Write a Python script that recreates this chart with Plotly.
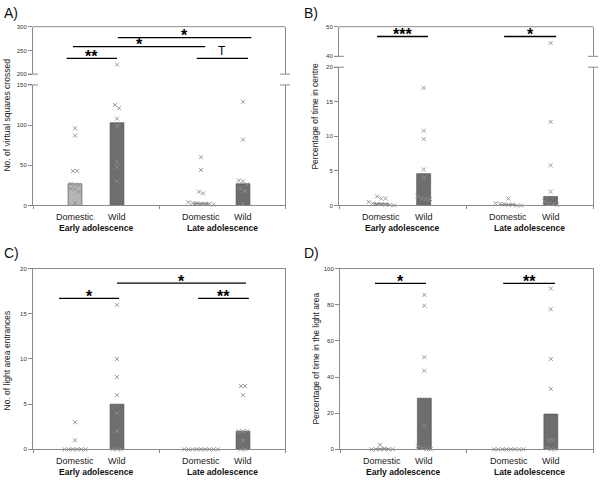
import plotly.graph_objects as go

# ---------------- data ----------------
group_labels = ["Domestic", "Wild", "Domestic", "Wild"]
group_pos = [1, 2, 4, 5]
stage_labels = ["Early adolescence", "Late adolescence"]
stage_pos = [1.5, 4.5]

# A) No. of virtual squares crossed
a_medians = [27, 103, 3, 27]
a_dom_early = [96, 87, 43, 43, 27, 26, 25, 21, 20, 17, 3]
a_wild_early = [220, 125, 121, 108, 99, 54, 48, 30]
a_dom_late = [60, 44, 17, 15, 4, 3, 3, 2, 2, 2, 1]
a_wild_late = [129, 82, 31, 30, 26, 21, 18, 2]
a_sig_labels = ["**", "*", "*", "T"]
a_sig_from = [0.8, 0.95, 2.02, 3.9]
a_sig_to = [2.0, 4.1, 5.2, 5.12]
a_sig_level = [233, 258, 277, 233]

# B) Percentage of time in centre
b_medians = [0.3, 4.6, 0.15, 1.3]
b_dom_early = [1.3, 1.0, 1.0, 0.5, 0.3, 0.2, 0.2, 0.1, 0.1, 0.0]
b_wild_early = [17.0, 10.8, 9.6, 5.2, 4.0, 1.3, 1.0, 0.9, 0.9]
b_dom_late = [1.0, 0.3, 0.2, 0.2, 0.1, 0.1, 0.0, 0.0]
b_wild_late = [44.5, 12.1, 5.8, 2.0, 0.6, 0.3, 0.2, 0.1]
b_sig_labels = ["***", "*"]
b_sig_from = [0.9, 3.9]
b_sig_to = [2.1, 5.13]
b_sig_level = [46.7, 46.7]

# C) No. of light area entrances
c_medians = [0, 5, 0, 2]
c_dom_early = [3, 1, 0, 0, 0, 0, 0, 0]
c_wild_early = [16, 10, 8, 6, 4, 2, 0, 0, 0]
c_dom_late = [0, 0, 0, 0, 0, 0, 0, 0, 0]
c_wild_late = [7, 7, 6, 2, 2, 2, 1, 0, 0]
c_sig_labels = ["*", "*", "**"]
c_sig_from = [0.62, 2.0, 3.93]
c_sig_to = [2.05, 5.07, 5.14]
c_sig_level = [16.7, 18.4, 16.7]

# D) Percentage of time in the light area
d_medians = [0.3, 28.3, 0, 19.5]
d_dom_early = [2.5, 0.5, 0, 0, 0, 0, 0, 0]
d_wild_early = [85.5, 79.5, 51, 43.5, 13, 2, 0.5, 0, 0]
d_dom_late = [0, 0, 0, 0, 0, 0, 0, 0]
d_wild_late = [89, 77.5, 50, 33.5, 5, 5, 0.5, 0, 0]
d_sig_labels = ["*", "**"]
d_sig_from = [0.83, 3.87]
d_sig_to = [2.04, 5.1]
d_sig_level = [91.8, 91.8]

# ---------------- styling ----------------
W, H = 600, 480
FONT = "Liberation Sans, Arial, sans-serif"
AXIS_GREY = "#8a8a8a"
BAR_COLORS = ["#b5b5b5", "#6e6e6e", "#b5b5b5", "#6e6e6e"]
PT_COLOR = "#8e8e8e"


def px_x(p):
    return p / W


def px_y(p):
    return 1 - p / H


def swarm(vals, center, tol, step=0.1):
    order = sorted(vals, reverse=True)
    xs, ys = [], []
    i = 0
    while i < len(order):
        j = i
        while j + 1 < len(order) and order[i] - order[j + 1] <= tol:
            j += 1
        grp = order[i:j + 1]
        n = len(grp)
        for k, v in enumerate(grp):
            xs.append(center + (k - (n - 1) / 2) * step)
            ys.append(v)
        i = j + 1
    return xs, ys


fig = go.Figure()
layout = dict(
    width=W, height=H, margin=dict(l=0, r=0, t=0, b=0),
    paper_bgcolor="white", plot_bgcolor="white", showlegend=False,
    font=dict(family=FONT, color="#222"),
)
shapes = []
annotations = []


def add_panel(letter, xa, ya_low, ya_up, xdom, ydom_low, ydom_up,
              low_range, low_ticks, up_range, up_ticks, ytitle, title_px,
              series, medians, sig_labels, sig_from, sig_to, sig_level, letter_px):
    xn = "xaxis" + xa[1:]
    yln = "yaxis" + ya_low[1:]
    lowpx = (ydom_low[1] - ydom_low[0]) * H
    tol_low = 4.5 / (lowpx / (low_range[1] - low_range[0]))
    axis_bottom_px = (1 - ydom_low[0]) * H
    marker = dict(symbol="x-thin", size=4, line=dict(color=PT_COLOR, width=0.9))
    # bars
    fig.add_trace(go.Bar(
        x=group_pos, y=medians, xaxis=xa, yaxis=ya_low, width=0.33,
        marker=dict(color=BAR_COLORS, line=dict(color="#4a4a4a", width=0.6)),
        hoverinfo="skip"))
    # points
    for gp, vals in zip(group_pos, series):
        low_vals = [v for v in vals if v <= low_range[1]]
        xs, ys = swarm(low_vals, gp, tol_low)
        fig.add_trace(go.Scatter(
            x=xs, y=ys, xaxis=xa, yaxis=ya_low, mode="markers", cliponaxis=False,
            marker=marker))
        if ya_up:
            up_vals = [v for v in vals if v >= up_range[0]]
            if up_vals:
                xs, ys = swarm(up_vals, gp, 1)
                fig.add_trace(go.Scatter(
                    x=xs, y=ys, xaxis=xa, yaxis=ya_up, mode="markers", cliponaxis=False,
                    marker=marker))

    layout[xn] = dict(
        domain=list(xdom), anchor=ya_low, range=[0, 6], showgrid=False, zeroline=False,
        showline=True, linecolor=AXIS_GREY, linewidth=1, mirror=(ya_up is None),
        tickvals=[0, 3, 6], ticks="outside", ticklen=3, tickcolor=AXIS_GREY,
        showticklabels=False, fixedrange=True)
    ycommon = dict(showgrid=False, zeroline=False, showline=True, linecolor=AXIS_GREY,
                   linewidth=1, mirror=True, ticks="outside", ticklen=4,
                   tickcolor=AXIS_GREY, tickfont=dict(size=6, color="#333", family=FONT),
                   anchor=xa)
    layout[yln] = dict(domain=list(ydom_low), range=list(low_range), tickvals=low_ticks, **ycommon)
    if ya_up:
        yun = "yaxis" + ya_up[1:]
        layout[yun] = dict(domain=list(ydom_up), range=list(up_range), tickvals=up_ticks, **ycommon)
        shapes.append(dict(type="line", xref=xa + " domain", yref=ya_up + " domain",
                           x0=0, x1=1, y0=1, y1=1, line=dict(color=AXIS_GREY, width=1)))
        half = 5 / ((xdom[1] - xdom[0]) * W)
        for xc in (0, 1):
            for yr, yv in ((ya_low + " domain", 1), (ya_up + " domain", 0)):
                shapes.append(dict(type="line", xref=xa + " domain", yref=yr,
                                   x0=xc - half, x1=xc + half, y0=yv, y1=yv,
                                   line=dict(color=AXIS_GREY, width=1)))
    sig_axis = ya_up if ya_up else ya_low
    for lab, x0, x1, yv in zip(sig_labels, sig_from, sig_to, sig_level):
        shapes.append(dict(type="line", xref=xa, yref=sig_axis, x0=x0, x1=x1, y0=yv, y1=yv,
                           line=dict(color="black", width=1.3)))
        if lab == "T":
            annotations.append(dict(text="T", xref=xa, yref=sig_axis, x=(x0 + x1) / 2, y=yv,
                                    yanchor="bottom", showarrow=False, yshift=-2,
                                    font=dict(size=12, color="black", family=FONT)))
        else:
            annotations.append(dict(text="<b>" + lab + "</b>", xref=xa, yref=sig_axis,
                                    x=(x0 + x1) / 2, y=yv, yanchor="middle", showarrow=False,
                                    yshift=2, font=dict(size=16, color="black", family=FONT)))
    for gl, gp in zip(group_labels, group_pos):
        annotations.append(dict(text=gl, xref=xa, yref="paper", x=gp,
                                y=px_y(axis_bottom_px + 11.5), yanchor="middle",
                                showarrow=False, font=dict(size=9, color="#222", family=FONT)))
    for st, sp in zip(stage_labels, stage_pos):
        annotations.append(dict(text="<b>" + st + "</b>", xref=xa, yref="paper", x=sp,
                                y=px_y(axis_bottom_px + 22.5), yanchor="middle",
                                showarrow=False, font=dict(size=8.5, color="#111", family=FONT)))
    annotations.append(dict(text=ytitle, xref="paper", yref="paper", x=px_x(title_px[0]),
                            y=px_y(title_px[1]), textangle=-90, showarrow=False,
                            xanchor="center", yanchor="middle",
                            font=dict(size=8.5, color="#222", family=FONT)))
    annotations.append(dict(text=letter, xref="paper", yref="paper", x=px_x(letter_px[0]),
                            y=px_y(letter_px[1]), xanchor="left", yanchor="middle",
                            showarrow=False, font=dict(size=14, color="#111", family=FONT)))


add_panel("A)", "x", "y", "y2", (px_x(33), px_x(285)), (px_y(205), px_y(83)),
          (px_y(72), px_y(24)), (0, 150), [0, 50, 100, 150], (200, 300), [200, 250, 300],
          "No. of virtual squares crossed", (7, 114),
          [a_dom_early, a_wild_early, a_dom_late, a_wild_late], a_medians,
          a_sig_labels, a_sig_from, a_sig_to, a_sig_level, (2, 10))

add_panel("B)", "x2", "y3", "y4", (px_x(339), px_x(593)), (px_y(205), px_y(65)),
          (px_y(54), px_y(24)), (0, 20), [0, 5, 10, 15, 20], (40, 50), [40, 50],
          "Percentage of time in centre", (315, 115),
          [b_dom_early, b_wild_early, b_dom_late, b_wild_late], b_medians,
          b_sig_labels, b_sig_from, b_sig_to, b_sig_level, (302, 10))

add_panel("C)", "x3", "y5", None, (px_x(33), px_x(285)), (px_y(452), px_y(269)),
          None, (0, 20), [0, 5, 10, 15, 20], None, None,
          "No. of light area entrances", (7, 362),
          [c_dom_early, c_wild_early, c_dom_late, c_wild_late], c_medians,
          c_sig_labels, c_sig_from, c_sig_to, c_sig_level, (2, 253))

add_panel("D)", "x4", "y6", None, (px_x(340), px_x(593)), (px_y(452), px_y(269)),
          None, (0, 100), [0, 20, 40, 60, 80, 100], None, None,
          "Percentage of time in the light area", (315, 360),
          [d_dom_early, d_wild_early, d_dom_late, d_wild_late], d_medians,
          d_sig_labels, d_sig_from, d_sig_to, d_sig_level, (302, 253))

layout["shapes"] = shapes
layout["annotations"] = annotations
layout["bargap"] = 0
fig.update_layout(**layout)
fig.write_html("out.html", config={"displayModeBar": False, "staticPlot": True},
               post_script="document.body.style.margin='0';document.body.style.overflow='hidden';")
